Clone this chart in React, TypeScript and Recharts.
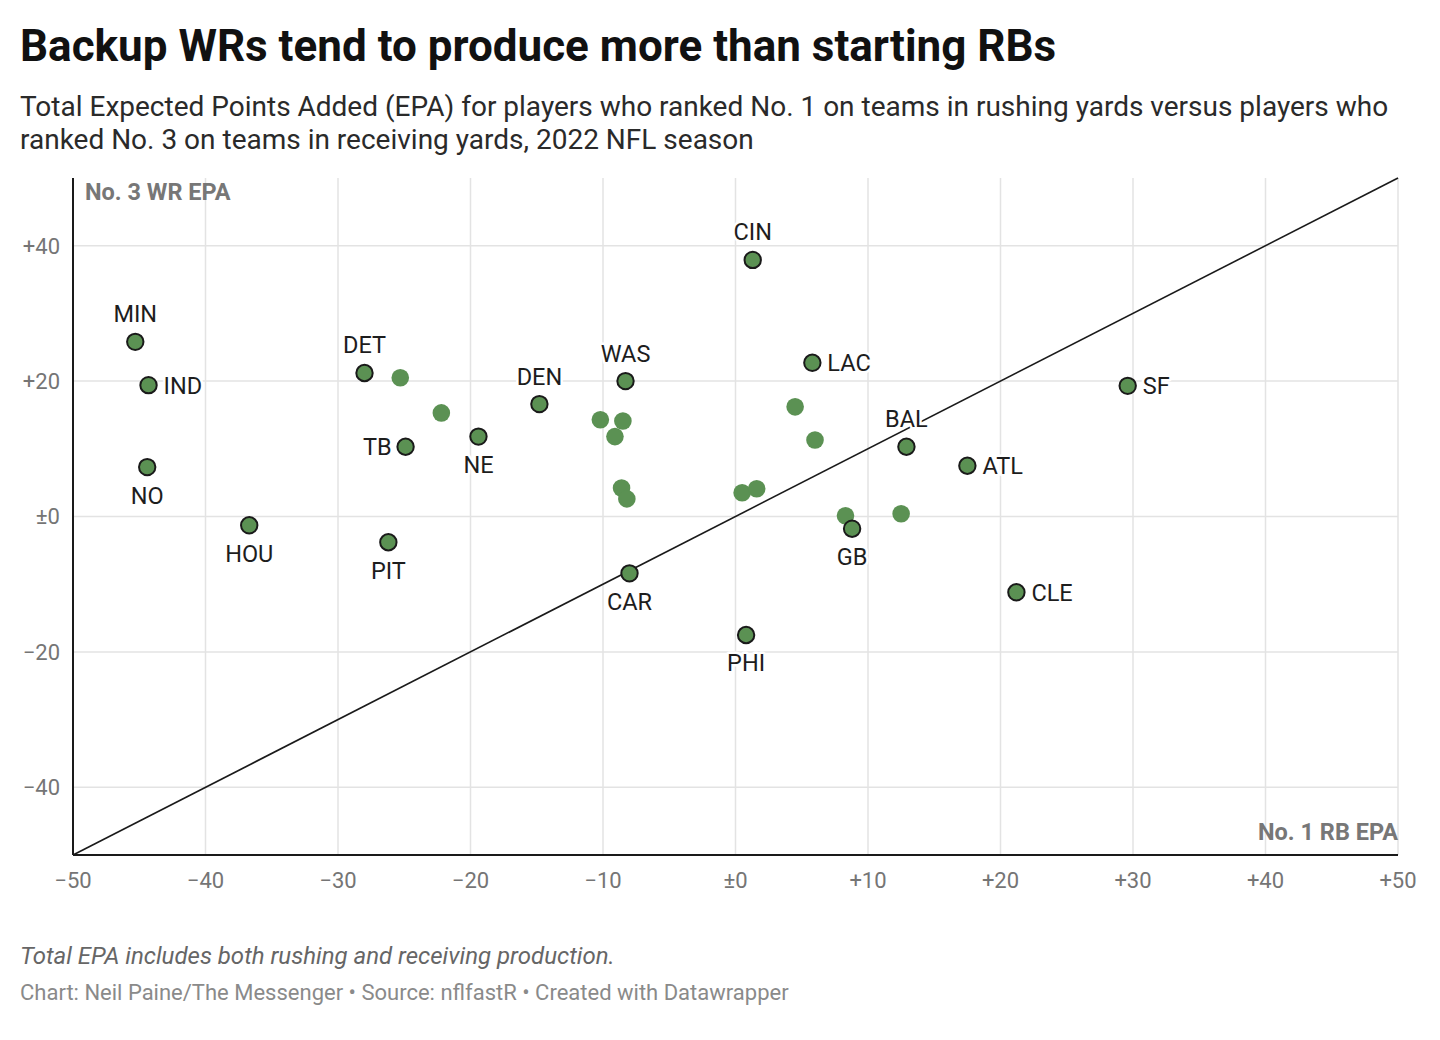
import React from "react";
import {
  ScatterChart,
  Scatter,
  XAxis,
  YAxis,
  CartesianGrid,
  ReferenceLine,
} from "recharts";

// Labeled teams: No. 1 RB EPA (x) vs No. 3 WR EPA (y)
const teams = ["MIN", "IND", "NO", "HOU", "DET", "TB", "PIT", "NE", "DEN", "WAS", "CAR", "CIN", "PHI", "LAC", "BAL", "GB", "ATL", "CLE", "SF"];
const teamRbEpa = [-45.3, -44.3, -44.4, -36.7, -28.0, -24.9, -26.2, -19.4, -14.8, -8.3, -8.0, 1.3, 0.8, 5.8, 12.9, 8.8, 17.5, 21.2, 29.6];
const teamWrEpa = [25.8, 19.4, 7.3, -1.3, 21.2, 10.3, -3.8, 11.8, 16.6, 20.0, -8.4, 37.9, -17.5, 22.7, 10.3, -1.8, 7.5, -11.2, 19.3];
const labelSide = ["top", "right", "bottom", "bottom", "top", "left", "bottom", "bottom", "top", "top", "bottom", "top", "bottom", "right", "top", "bottom", "right", "right", "right"];

// Unlabeled teams
const otherRbEpa = [-25.3, -22.2, -10.2, -8.5, -9.1, -8.6, -8.2, 0.5, 1.6, 4.5, 6.0, 8.3, 12.5];
const otherWrEpa = [20.5, 15.3, 14.3, 14.1, 11.8, 4.2, 2.6, 3.5, 4.1, 16.2, 11.3, 0.1, 0.4];

const xTicks = [-50, -40, -30, -20, -10, 0, 10, 20, 30, 40, 50];
const yTicks = [-40, -20, 0, 20, 40];

const labeledData = teams.map((t, i) => ({ team: t, x: teamRbEpa[i], y: teamWrEpa[i], side: labelSide[i] }));
const otherData = otherRbEpa.map((x, i) => ({ x, y: otherWrEpa[i] }));

const GREEN = "#5b9153";
const FONT = "Roboto, 'Noto Sans', sans-serif";

const fmt = (v: number) => (v === 0 ? "±0" : v > 0 ? `+${v}` : `\u2212${Math.abs(v)}`);

const LabeledDot = (props: any) => {
  const { cx, cy, payload } = props;
  const side = payload.side;
  let tx = cx;
  let ty = cy;
  let anchor: "start" | "middle" | "end" = "middle";
  if (side === "top") {
    ty = cy - 28;
  } else if (side === "bottom") {
    ty = cy + 28;
  } else if (side === "right") {
    tx = cx + 15;
    anchor = "start";
  } else if (side === "left") {
    tx = cx - 14;
    anchor = "end";
  }
  return (
    <g>
      <circle cx={cx} cy={cy} r={8.2} fill={GREEN} stroke="#1a1a1a" strokeWidth={2} />
      <text
        x={tx}
        y={ty}
        dy="0.36em"
        textAnchor={anchor}
        fontFamily={FONT}
        fontSize={23.5}
        fill="#1d1d1d"
        stroke="#ffffff"
        strokeWidth={5}
        strokeLinejoin="round"
        paintOrder="stroke"
      >
        {payload.team}
      </text>
    </g>
  );
};

const PlainDot = (props: any) => {
  const { cx, cy } = props;
  return <circle cx={cx} cy={cy} r={8.8} fill={GREEN} />;
};

export default function App() {
  return (
    <div style={{ position: "absolute", left: 0, top: 0, width: 1440, height: 1040, background: "#fff", fontFamily: FONT }}>
      <div style={{ position: "absolute", left: 20, top: 20, fontSize: 44, fontWeight: 700, color: "#111", lineHeight: "52px", whiteSpace: "nowrap" }}>
        Backup WRs tend to produce more than starting RBs
      </div>
      <div style={{ position: "absolute", left: 20, top: 90, width: 1400, fontSize: 28, color: "#2a2a2a", lineHeight: "33px" }}>
        Total Expected Points Added (EPA) for players who ranked No. 1 on teams in rushing yards versus players who ranked No. 3 on teams in receiving yards, 2022 NFL season
      </div>
      <div style={{ position: "absolute", left: 0, top: 0 }}>
        <ScatterChart width={1440} height={1040} margin={{ top: 178, right: 42, bottom: 145, left: 0 }}>
          <CartesianGrid stroke="#e3e3e3" strokeWidth={1.5} horizontalValues={yTicks} verticalValues={xTicks} />
          <XAxis
            type="number"
            dataKey="x"
            domain={[-50, 50]}
            ticks={xTicks}
            tickFormatter={fmt}
            height={40}
            tickSize={0}
            tickMargin={17}
            axisLine={{ stroke: "#1a1a1a", strokeWidth: 2 }}
            tickLine={false}
            tick={{ fill: "#757575", fontSize: 22, fontFamily: FONT }}
            allowDataOverflow
          />
          <YAxis
            type="number"
            dataKey="y"
            domain={[-50, 50]}
            ticks={yTicks}
            tickFormatter={fmt}
            width={73}
            tickSize={0}
            tickMargin={13}
            axisLine={{ stroke: "#1a1a1a", strokeWidth: 2 }}
            tickLine={false}
            tick={{ fill: "#757575", fontSize: 22, fontFamily: FONT }}
            allowDataOverflow
          />
          <ReferenceLine
            segment={[{ x: -50, y: -50 }, { x: 50, y: 50 }]}
            stroke="#1a1a1a"
            strokeWidth={1.6}
            ifOverflow="visible"
          />
          <Scatter data={otherData} shape={PlainDot} isAnimationActive={false} />
          <Scatter data={labeledData} shape={LabeledDot} isAnimationActive={false} />
        </ScatterChart>
      </div>
      <div style={{ position: "absolute", left: 85, top: 178, fontSize: 23.5, lineHeight: "28px", fontWeight: 700, color: "#777" }}>No. 3 WR EPA</div>
      <div style={{ position: "absolute", right: 42, top: 818, fontSize: 23.5, lineHeight: "28px", fontWeight: 700, color: "#777" }}>No. 1 RB EPA</div>
      <div style={{ position: "absolute", left: 20, top: 942, fontSize: 24, lineHeight: "28px", fontStyle: "italic", color: "#666", whiteSpace: "nowrap" }}>
        Total EPA includes both rushing and receiving production.
      </div>
      <div style={{ position: "absolute", left: 20, top: 980, fontSize: 22, lineHeight: "26px", color: "#8a8a8a", whiteSpace: "nowrap" }}>
        Chart: Neil Paine/The Messenger • Source: nflfastR • Created with Datawrapper
      </div>
    </div>
  );
}
